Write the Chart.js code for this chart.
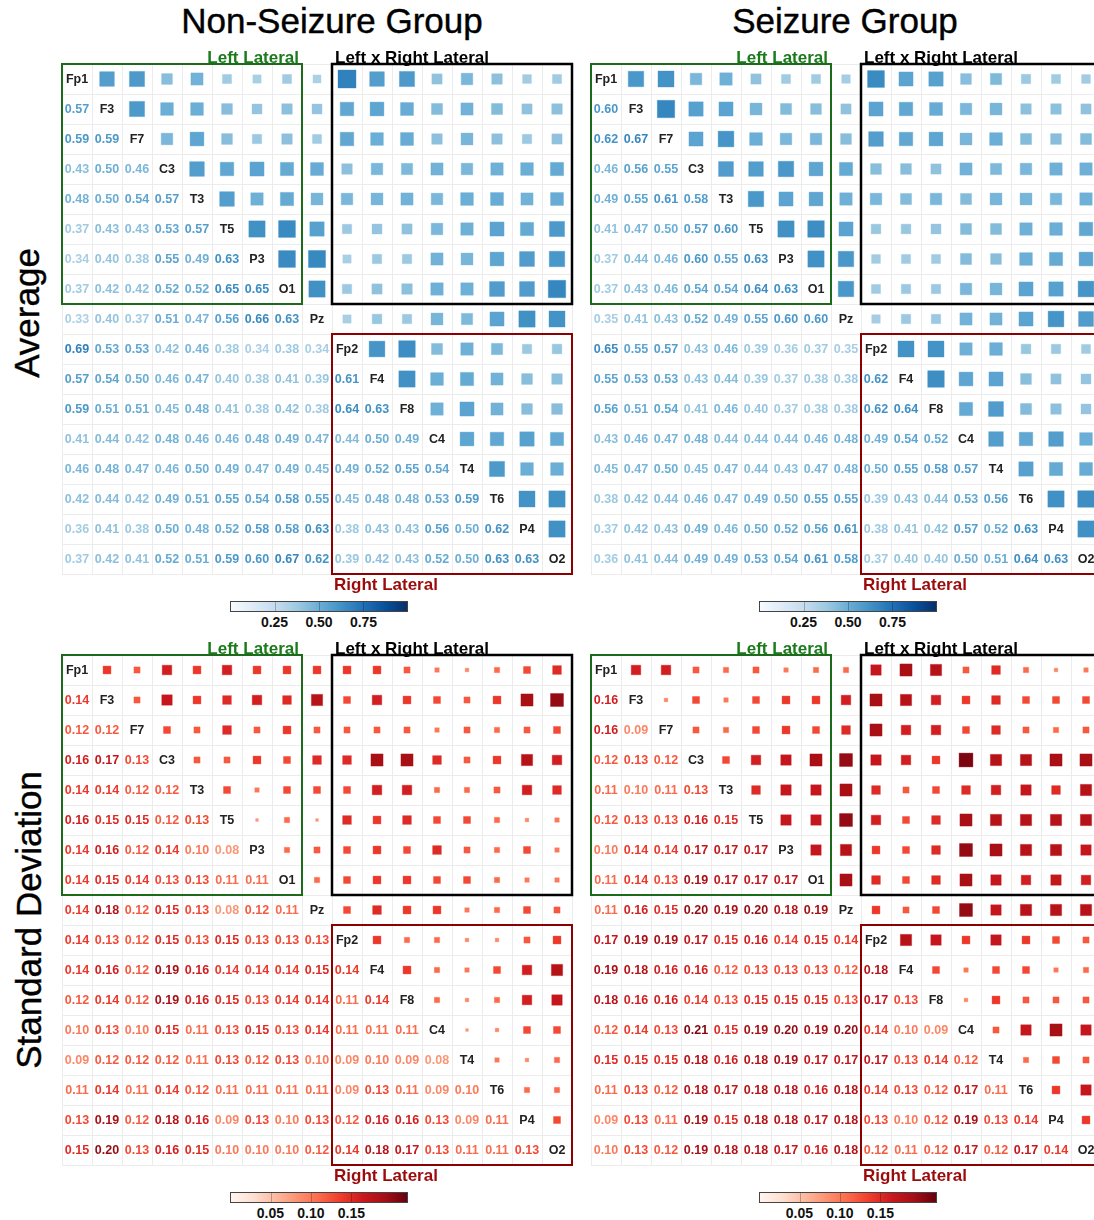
<!DOCTYPE html>
<html>
<head>
<meta charset="utf-8">
<script src="https://cdn.jsdelivr.net/npm/chart.js@4.4.1/dist/chart.umd.min.js"></script>
<style>
  body { margin:0; width:1094px; height:1220px; overflow:hidden; background:#fff; position:relative;
         font-family:"Liberation Sans", Arial, sans-serif; }
  .abs { position:absolute; white-space:nowrap; line-height:1; }
  .title { font-size:35px; color:#000; transform:translateX(-50%); line-height:35px; -webkit-text-stroke:0.4px #000; }
  .rowlab { font-size:35px; color:#000; transform:translate(-50%,-50%) rotate(-90deg); -webkit-text-stroke:0.4px #000; }
  .lab { font-size:17px; font-weight:bold; line-height:17px; }
  canvas.mat { position:absolute; }
  .cbar { position:absolute; width:178px; height:11px; border:1px solid #444; box-sizing:border-box; }
  .cbtick { position:absolute; top:0; width:1px; height:100%; background:rgba(0,0,0,0.25); }
  .tick { position:absolute; font-size:14px; font-weight:bold; line-height:14px; transform:translateX(-50%); color:#111; }
</style>
</head>
<body>
<div class="abs title" style="left:332px;top:3px">Non-Seizure Group</div>
<div class="abs title" style="left:845px;top:3px">Seizure Group</div>
<div class="abs rowlab" style="left:26px;top:313px">Average</div>
<div class="abs rowlab" style="left:28px;top:920px">Standard Deviation</div>

<canvas id="nsAvg" class="mat" width="530" height="530" style="left:52px;top:54px"></canvas>
<canvas id="szAvg" class="mat" width="530" height="530" style="left:581px;top:54px"></canvas>
<canvas id="nsSd" class="mat" width="530" height="530" style="left:52px;top:645px"></canvas>
<canvas id="szSd" class="mat" width="530" height="530" style="left:581px;top:645px"></canvas>

<div id="labels"></div>
<div id="bars"></div>

<script>
// EEG channels, in matrix order
const channels = ["Fp1","F3","F7","C3","T3","T5","P3","O1","Pz","Fp2","F4","F8","C4","T4","T6","P4","O2"];

// lower triangles: row k = values against channels 0..k-1
const nonSeizureAvg = [
  [],
  [0.57],
  [0.59,0.59],
  [0.43,0.50,0.46],
  [0.48,0.50,0.54,0.57],
  [0.37,0.43,0.43,0.53,0.57],
  [0.34,0.40,0.38,0.55,0.49,0.63],
  [0.37,0.42,0.42,0.52,0.52,0.65,0.65],
  [0.33,0.40,0.37,0.51,0.47,0.56,0.66,0.63],
  [0.69,0.53,0.53,0.42,0.46,0.38,0.34,0.38,0.34],
  [0.57,0.54,0.50,0.46,0.47,0.40,0.38,0.41,0.39,0.61],
  [0.59,0.51,0.51,0.45,0.48,0.41,0.38,0.42,0.38,0.64,0.63],
  [0.41,0.44,0.42,0.48,0.46,0.46,0.48,0.49,0.47,0.44,0.50,0.49],
  [0.46,0.48,0.47,0.46,0.50,0.49,0.47,0.49,0.45,0.49,0.52,0.55,0.54],
  [0.42,0.44,0.42,0.49,0.51,0.55,0.54,0.58,0.55,0.45,0.48,0.48,0.53,0.59],
  [0.36,0.41,0.38,0.50,0.48,0.52,0.58,0.58,0.63,0.38,0.43,0.43,0.56,0.50,0.62],
  [0.37,0.42,0.41,0.52,0.51,0.59,0.60,0.67,0.62,0.39,0.42,0.43,0.52,0.50,0.63,0.63]
];
const seizureAvg = [
  [],
  [0.60],
  [0.62,0.67],
  [0.46,0.56,0.55],
  [0.49,0.55,0.61,0.58],
  [0.41,0.47,0.50,0.57,0.60],
  [0.37,0.44,0.46,0.60,0.55,0.63],
  [0.37,0.43,0.46,0.54,0.54,0.64,0.63],
  [0.35,0.41,0.43,0.52,0.49,0.55,0.60,0.60],
  [0.65,0.55,0.57,0.43,0.46,0.39,0.36,0.37,0.35],
  [0.55,0.53,0.53,0.43,0.44,0.39,0.37,0.38,0.38,0.62],
  [0.56,0.51,0.54,0.41,0.46,0.40,0.37,0.38,0.38,0.62,0.64],
  [0.43,0.46,0.47,0.48,0.44,0.44,0.44,0.46,0.48,0.49,0.54,0.52],
  [0.45,0.47,0.50,0.45,0.47,0.44,0.43,0.47,0.48,0.50,0.55,0.58,0.57],
  [0.38,0.42,0.44,0.46,0.47,0.49,0.50,0.55,0.55,0.39,0.43,0.44,0.53,0.56],
  [0.37,0.42,0.43,0.49,0.46,0.50,0.52,0.56,0.61,0.38,0.41,0.42,0.57,0.52,0.63],
  [0.36,0.41,0.44,0.49,0.49,0.53,0.54,0.61,0.58,0.37,0.40,0.40,0.50,0.51,0.64,0.63]
];
const nonSeizureSd = [
  [],
  [0.14],
  [0.12,0.12],
  [0.16,0.17,0.13],
  [0.14,0.14,0.12,0.12],
  [0.16,0.15,0.15,0.12,0.13],
  [0.14,0.16,0.12,0.14,0.10,0.08],
  [0.14,0.15,0.14,0.13,0.13,0.11,0.11],
  [0.14,0.18,0.12,0.15,0.13,0.08,0.12,0.11],
  [0.14,0.13,0.12,0.15,0.13,0.15,0.13,0.13,0.13],
  [0.14,0.16,0.12,0.19,0.16,0.14,0.14,0.14,0.15,0.14],
  [0.12,0.14,0.12,0.19,0.16,0.15,0.13,0.14,0.14,0.11,0.14],
  [0.10,0.13,0.10,0.15,0.11,0.13,0.15,0.13,0.14,0.11,0.11,0.11],
  [0.09,0.12,0.12,0.12,0.11,0.13,0.12,0.13,0.10,0.09,0.10,0.09,0.08],
  [0.11,0.14,0.11,0.14,0.12,0.11,0.11,0.11,0.11,0.09,0.13,0.11,0.09,0.10],
  [0.13,0.19,0.12,0.18,0.16,0.09,0.13,0.10,0.13,0.12,0.16,0.16,0.13,0.09,0.11],
  [0.15,0.20,0.13,0.16,0.15,0.10,0.10,0.10,0.12,0.14,0.18,0.17,0.13,0.11,0.11,0.13]
];
const seizureSd = [
  [],
  [0.16],
  [0.16,0.09],
  [0.12,0.13,0.12],
  [0.11,0.10,0.11,0.13],
  [0.12,0.13,0.13,0.16,0.15],
  [0.10,0.14,0.14,0.17,0.17,0.17],
  [0.11,0.14,0.13,0.19,0.17,0.17,0.17],
  [0.11,0.16,0.15,0.20,0.19,0.20,0.18,0.19],
  [0.17,0.19,0.19,0.17,0.15,0.16,0.14,0.15,0.14],
  [0.19,0.18,0.16,0.16,0.12,0.13,0.13,0.13,0.12,0.18],
  [0.18,0.16,0.16,0.14,0.13,0.15,0.15,0.15,0.13,0.17,0.13],
  [0.12,0.14,0.13,0.21,0.15,0.19,0.20,0.19,0.20,0.14,0.10,0.09],
  [0.15,0.15,0.15,0.18,0.16,0.18,0.19,0.17,0.17,0.17,0.13,0.14,0.12],
  [0.11,0.13,0.12,0.18,0.17,0.18,0.18,0.16,0.18,0.14,0.13,0.12,0.17,0.11],
  [0.09,0.13,0.11,0.19,0.15,0.18,0.18,0.17,0.18,0.13,0.10,0.12,0.19,0.13,0.14],
  [0.10,0.13,0.12,0.19,0.18,0.18,0.17,0.16,0.18,0.12,0.11,0.12,0.17,0.12,0.17,0.14]
];

// colour bar ranges and ticks
const avgRange = [0, 1];
const sdRange = [0, 0.22];
const avgTicks = [0.25, 0.50, 0.75];
const sdTicks = [0.05, 0.10, 0.15];

const bluesStops = ["#f7fbff","#deebf7","#c6dbef","#9ecae1","#6baed6","#4292c6","#2171b5","#08519c","#08306b"];
const redsStops  = ["#fff5f0","#fee0d2","#fcbba1","#fc9272","#fb6a4a","#ef3b2c","#cb181d","#a50f15","#67000d"];

function hexRgb(h) {
  return [parseInt(h.slice(1,3),16), parseInt(h.slice(3,5),16), parseInt(h.slice(5,7),16)];
}
function cmap(stops, t, alpha) {
  t = Math.max(0, Math.min(1, t));
  const pos = t * (stops.length - 1);
  const i = Math.min(Math.floor(pos), stops.length - 2);
  const f = pos - i;
  const a = hexRgb(stops[i]), b = hexRgb(stops[i + 1]);
  const c = a.map((v, k) => Math.round(v + (b[k] - v) * f));
  return `rgba(${c[0]},${c[1]},${c[2]},${alpha == null ? 1 : alpha})`;
}

const boxes = [
  { c0: 0, c1: 8, r0: 0, r1: 8, color: "#1b6b1b", w: 2 },
  { c0: 9, c1: 17, r0: 0, r1: 8, color: "#000000", w: 2.5 },
  { c0: 9, c1: 17, r0: 9, r1: 17, color: "#8b0000", w: 2 }
];

const matrixPlugin = {
  id: "matrix",
  beforeDatasetsDraw(chart, args, opts) {
    const { ctx } = chart;
    const xs = chart.scales.x, ys = chart.scales.y;
    ctx.save();
    ctx.strokeStyle = "#ececec";
    ctx.lineWidth = 1;
    for (let k = 0; k <= channels.length; k++) {
      const px = Math.round(xs.getPixelForValue(k)) + 0.5;
      const py = Math.round(ys.getPixelForValue(k)) + 0.5;
      ctx.beginPath();
      ctx.moveTo(px, ys.getPixelForValue(0));
      ctx.lineTo(px, ys.getPixelForValue(channels.length));
      ctx.moveTo(xs.getPixelForValue(0), py);
      ctx.lineTo(xs.getPixelForValue(channels.length), py);
      ctx.stroke();
    }
    ctx.restore();
  },
  afterDatasetsDraw(chart, args, opts) {
    const { ctx } = chart;
    const xs = chart.scales.x, ys = chart.scales.y;
    ctx.save();
    ctx.textAlign = "center";
    ctx.textBaseline = "middle";
    ctx.font = "bold 12.5px 'Liberation Sans', Arial, sans-serif";
    opts.rows.forEach((row, r) => {
      const py = ys.getPixelForValue(r + 0.5) + 1;
      row.forEach((v, c) => {
        ctx.fillStyle = opts.color(v, 1);
        ctx.fillText(v.toFixed(2), xs.getPixelForValue(c + 0.5), py);
      });
      ctx.fillStyle = "#222";
      ctx.fillText(channels[r], xs.getPixelForValue(r + 0.5), py);
    });
    boxes.forEach(b => {
      ctx.strokeStyle = b.color;
      ctx.lineWidth = b.w;
      const x0 = xs.getPixelForValue(b.c0), x1 = xs.getPixelForValue(b.c1);
      const y0 = ys.getPixelForValue(b.r0), y1 = ys.getPixelForValue(b.r1);
      ctx.strokeRect(x0, y0, x1 - x0, y1 - y0);
    });
    ctx.restore();
  }
};

function makeMatrix(id, rows, color, side) {
  const pts = [];
  rows.forEach((row, r) => row.forEach((v, c) => {
    // mirror the lower value into the upper triangle
    pts.push({ x: r + 0.5, y: c + 0.5, v: v });
  }));
  const radius = ctx => side(ctx.raw.v) / Math.SQRT2;
  new Chart(document.getElementById(id), {
    type: "scatter",
    data: {
      datasets: [{
        data: pts,
        pointStyle: "rect",
        pointRadius: radius,
        pointHoverRadius: radius,
        backgroundColor: ctx => color(ctx.raw.v, 1),
        borderColor: ctx => color(ctx.raw.v, 0.35),
        borderWidth: 1,
        clip: false
      }]
    },
    options: {
      responsive: false,
      animation: false,
      events: [],
      layout: { padding: 10, autoPadding: false },
      scales: {
        x: { type: "linear", min: 0, max: channels.length, display: false },
        y: { type: "linear", min: 0, max: channels.length, reverse: true, display: false }
      },
      plugins: {
        legend: { display: false },
        tooltip: { enabled: false },
        matrix: { rows: rows, color: color }
      }
    },
    plugins: [matrixPlugin]
  });
}

const blueColor = (v, a) => cmap(bluesStops, (v - avgRange[0]) / (avgRange[1] - avgRange[0]), a);
const redColor = (v, a) => cmap(redsStops, (v - sdRange[0]) / (sdRange[1] - sdRange[0]), a);
const avgSide = v => 27.5 * v - 1;
const sdSide = v => 85 * v - 4;

makeMatrix("nsAvg", nonSeizureAvg, blueColor, avgSide);
makeMatrix("szAvg", seizureAvg, blueColor, avgSide);
makeMatrix("nsSd", nonSeizureSd, redColor, sdSide);
makeMatrix("szSd", seizureSd, redColor, sdSide);

// block labels above / below each matrix
const labelsHtml = [];
[0, 529].forEach(dx => [0, 591].forEach(dy => {
  labelsHtml.push(`<div class="abs lab" style="left:${299 + dx}px;top:${49 + dy}px;transform:translateX(-100%);color:#1b7a1b">Left Lateral</div>`);
  labelsHtml.push(`<div class="abs lab" style="left:${335 + dx}px;top:${49 + dy}px;color:#000">Left x Right Lateral</div>`);
  labelsHtml.push(`<div class="abs lab" style="left:${334 + dx}px;top:${576 + dy}px;color:#9b0b0b">Right Lateral</div>`);
}));
document.getElementById("labels").innerHTML = labelsHtml.join("");

// colour bars
function colorBar(left, top, stops, range, ticks) {
  const w = 178;
  let html = `<div class="cbar" style="left:${left}px;top:${top}px;background:linear-gradient(to right,${stops.join(",")})">`;
  ticks.forEach(t => {
    const p = (t - range[0]) / (range[1] - range[0]) * (w - 2);
    html += `<div class="cbtick" style="left:${p}px"></div>`;
  });
  html += `</div>`;
  ticks.forEach(t => {
    const p = left + (t - range[0]) / (range[1] - range[0]) * w;
    html += `<div class="tick" style="left:${p}px;top:${top + 14}px">${t.toFixed(2)}</div>`;
  });
  return html;
}
document.getElementById("bars").innerHTML =
  colorBar(230, 601, bluesStops, avgRange, avgTicks) +
  colorBar(759, 601, bluesStops, avgRange, avgTicks) +
  colorBar(230, 1192, redsStops, sdRange, sdTicks) +
  colorBar(759, 1192, redsStops, sdRange, sdTicks);
</script>
</body>
</html>
